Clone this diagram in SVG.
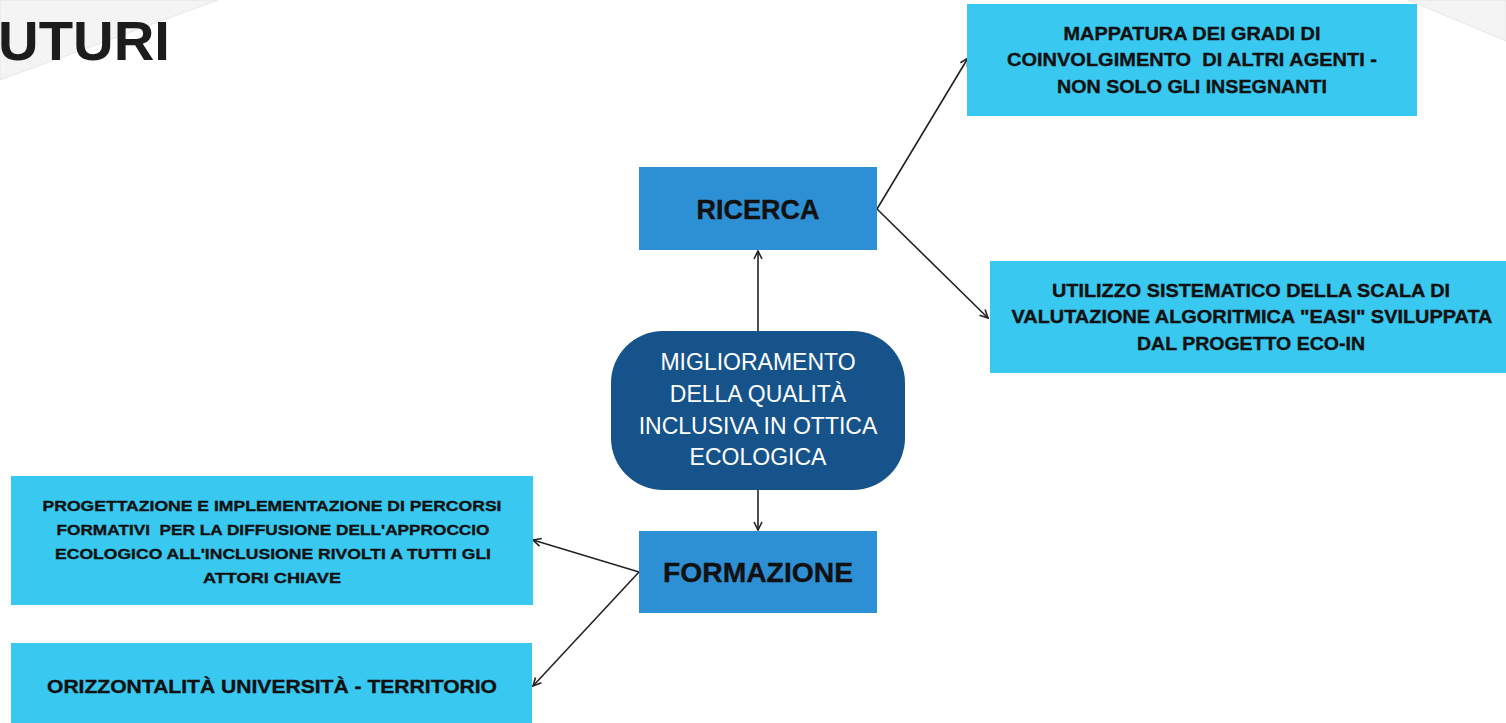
<svg xmlns="http://www.w3.org/2000/svg" width="1506" height="723" viewBox="0 0 1506 723">
<defs>
<marker id="arr" viewBox="0 0 10 10" refX="9" refY="5" markerWidth="10" markerHeight="10" markerUnits="userSpaceOnUse" orient="auto">
<path d="M1,1 L9,5 L1,9" fill="none" stroke="#222" stroke-width="1.6"/>
</marker>
</defs>
<style>
.bg{fill:#f4f4f4;stroke:#e2e2e2;stroke-width:0.8}
.lb{fill:#38c8f0}
.mb{fill:#2e90d4}
.cb{fill:#16538a}
.t{font-family:"Liberation Sans",Arial,sans-serif;font-weight:bold;fill:#111;stroke:#111;stroke-width:0.35;text-anchor:middle;white-space:pre}
.c{font-family:"Liberation Sans",Arial,sans-serif;fill:#fff;text-anchor:middle;font-size:23px}
.ln{stroke:#222;stroke-width:1.6;fill:none;marker-end:url(#arr)}
</style>
<rect width="1506" height="723" fill="#fff"/>
<polygon class="bg" points="0,0 218,0 0,80"/>
<polygon class="bg" points="1408,0 1506,0 1506,41"/>
<text x="-2" y="60" font-family="Liberation Sans,Arial,sans-serif" font-weight="bold" font-size="56" fill="#1c1c1c" textLength="172" lengthAdjust="spacingAndGlyphs">UTURI</text>

<g id="connectors">
<line class="ln" x1="758" y1="331" x2="758" y2="251"/>
<line class="ln" x1="758" y1="490" x2="758" y2="530"/>
<line class="ln" x1="877" y1="209" x2="968" y2="58"/>
<line class="ln" x1="877" y1="209" x2="988" y2="318"/>
<line class="ln" x1="639" y1="572" x2="533" y2="540"/>
<line class="ln" x1="639" y1="572" x2="533" y2="686"/>
</g>

<g id="center">
<rect class="cb" x="611" y="331" width="294" height="159" rx="52"/>
<text class="c" x="758" y="370">MIGLIORAMENTO</text>
<text class="c" x="758" y="402">DELLA QUALITÀ</text>
<text class="c" x="758" y="434">INCLUSIVA IN OTTICA</text>
<text class="c" x="758" y="465">ECOLOGICA</text>
</g>

<g id="ricerca">
<rect class="mb" x="639" y="167" width="238" height="83"/>
<text class="t" x="758" y="219" font-size="27" stroke-width="0.2">RICERCA</text>
</g>

<g id="formazione">
<rect class="mb" x="639" y="531" width="238" height="82"/>
<text class="t" x="758" y="582" font-size="28" stroke-width="0.2" textLength="190" lengthAdjust="spacingAndGlyphs">FORMAZIONE</text>
</g>

<g id="mappatura">
<rect class="lb" x="967" y="4" width="450" height="112"/>
<text class="t" x="1192" y="40" font-size="17.5" textLength="257" lengthAdjust="spacingAndGlyphs">MAPPATURA DEI GRADI DI</text>
<text class="t" x="1192" y="66" font-size="17.5" textLength="370" lengthAdjust="spacingAndGlyphs">COINVOLGIMENTO  DI ALTRI AGENTI -</text>
<text class="t" x="1192" y="93" font-size="17.5" textLength="270" lengthAdjust="spacingAndGlyphs">NON SOLO GLI INSEGNANTI</text>
</g>

<g id="utilizzo">
<rect class="lb" x="990" y="261" width="516" height="112"/>
<text class="t" x="1251" y="297" font-size="17.5" textLength="398" lengthAdjust="spacingAndGlyphs">UTILIZZO SISTEMATICO DELLA SCALA DI</text>
<text class="t" x="1252" y="323" font-size="17.5" textLength="481" lengthAdjust="spacingAndGlyphs">VALUTAZIONE ALGORITMICA "EASI" SVILUPPATA</text>
<text class="t" x="1251" y="350" font-size="17.5" textLength="228" lengthAdjust="spacingAndGlyphs">DAL PROGETTO ECO-IN</text>
</g>

<g id="progettazione">
<rect class="lb" x="11" y="476" width="522" height="129"/>
<text class="t" x="272" y="511" font-size="15.5" textLength="459" lengthAdjust="spacingAndGlyphs">PROGETTAZIONE E IMPLEMENTAZIONE DI PERCORSI</text>
<text class="t" x="273" y="535" font-size="15.5" textLength="433" lengthAdjust="spacingAndGlyphs">FORMATIVI  PER LA DIFFUSIONE DELL'APPROCCIO</text>
<text class="t" x="273" y="559" font-size="15.5" textLength="436" lengthAdjust="spacingAndGlyphs">ECOLOGICO ALL'INCLUSIONE RIVOLTI A TUTTI GLI</text>
<text class="t" x="272" y="583" font-size="15.5" textLength="138" lengthAdjust="spacingAndGlyphs">ATTORI CHIAVE</text>
</g>

<g id="orizzontalita">
<rect class="lb" x="11" y="643" width="521" height="80"/>
<text class="t" x="272" y="693" font-size="18.5" textLength="450" lengthAdjust="spacingAndGlyphs">ORIZZONTALITÀ UNIVERSITÀ - TERRITORIO</text>
</g>
</svg>
